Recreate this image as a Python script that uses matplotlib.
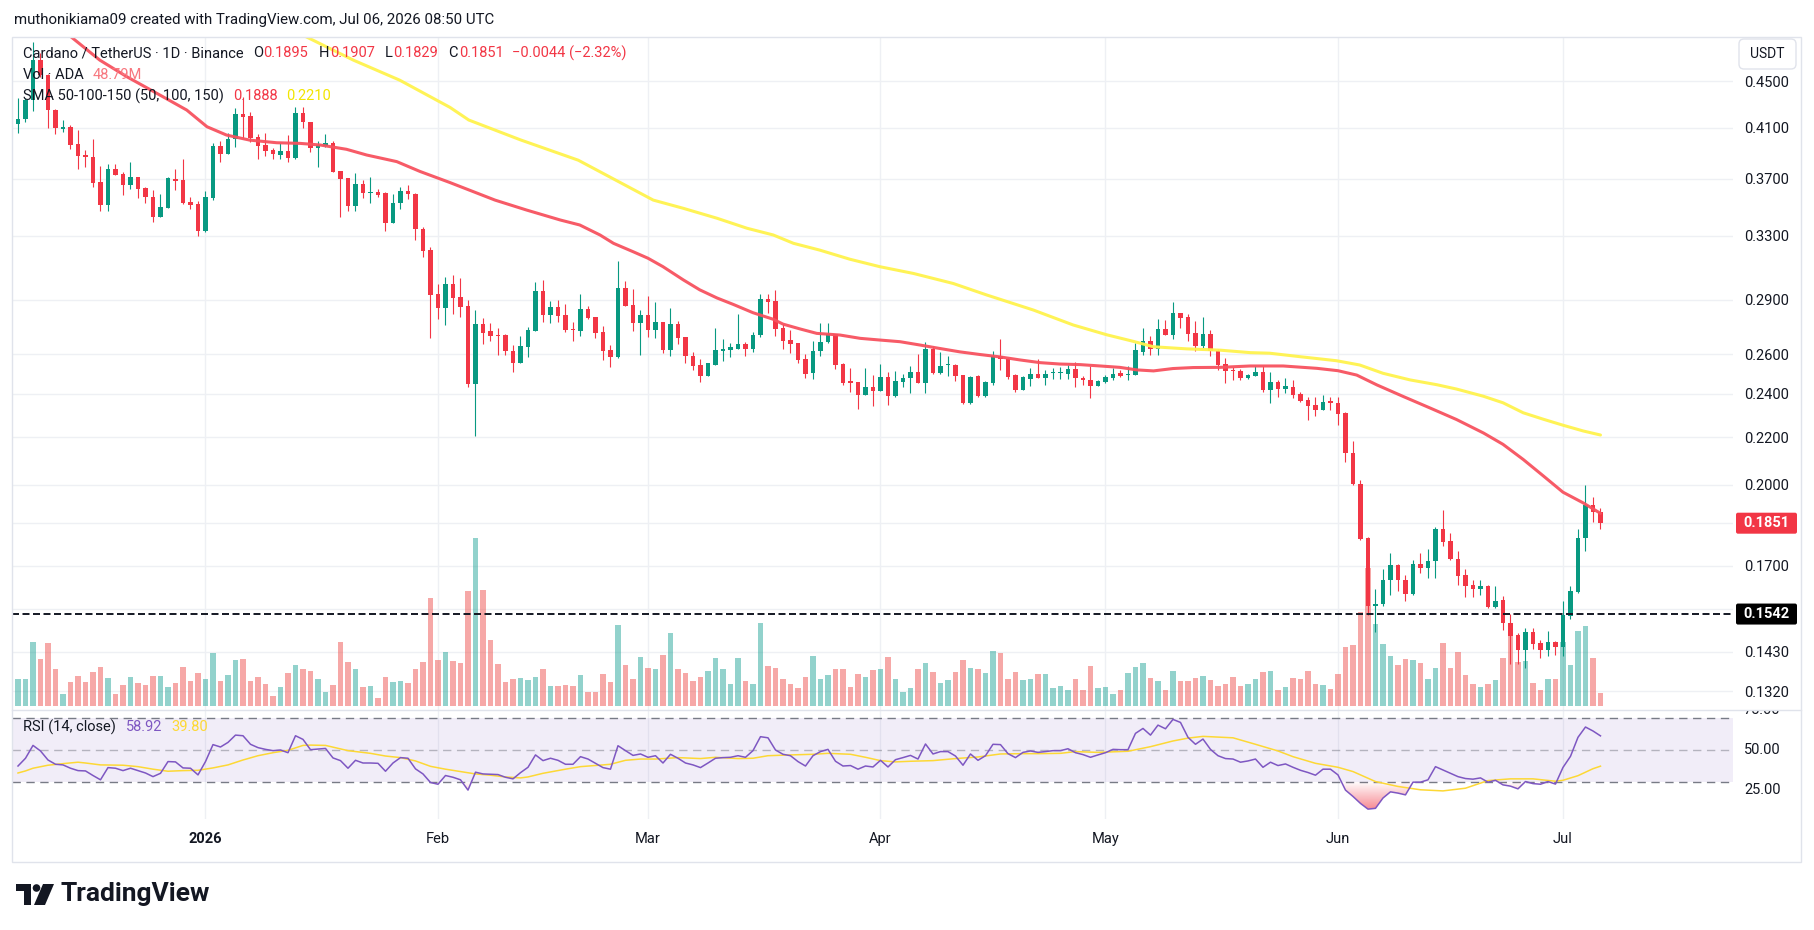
import datetime as dt
import numpy as np
import matplotlib
matplotlib.use("Agg")
import matplotlib.pyplot as plt
from matplotlib.patches import Rectangle, FancyBboxPatch, Circle, Polygon
from matplotlib.lines import Line2D
from matplotlib.path import Path
from matplotlib.transforms import IdentityTransform, blended_transform_factory
from matplotlib.ticker import FixedLocator, NullLocator, FixedFormatter, NullFormatter

plt.rcParams['font.family'] = ['Roboto', 'DejaVu Sans']

# ---------------- data ----------------
start_date = dt.date(2025, 12, 7)

opens = [
0.4132, 0.4171, 0.4334, 0.4696, 0.4560, 0.4247, 0.4085, 0.4104, 0.3967, 0.3880,
0.3864, 0.3676, 0.3512, 0.3772, 0.3732, 0.3655, 0.3713, 0.3633, 0.3566, 0.3428,
0.3490, 0.3698, 0.3690, 0.3531, 0.3516, 0.3333, 0.3561, 0.3951, 0.3890, 0.4004,
0.4212, 0.4195, 0.4021, 0.3959, 0.3919, 0.3882, 0.3911, 0.3859, 0.4221, 0.4146,
0.3933, 0.3954, 0.3972, 0.3757, 0.3705, 0.3505, 0.3660, 0.3592, 0.3602, 0.3592,
0.3387, 0.3521, 0.3609, 0.3590, 0.3344, 0.3204, 0.2932, 0.2855, 0.2994, 0.2917,
0.2864, 0.2449, 0.2762, 0.2724, 0.2702, 0.2702, 0.2617, 0.2555, 0.2636, 0.2725,
0.2952, 0.2812, 0.2858, 0.2812, 0.2736, 0.2726, 0.2846, 0.2801, 0.2718, 0.2622,
0.2583, 0.2970, 0.2870, 0.2770, 0.2812, 0.2731, 0.2774, 0.2624, 0.2762, 0.2691,
0.2591, 0.2543, 0.2490, 0.2545, 0.2619, 0.2622, 0.2627, 0.2654, 0.2627, 0.2700,
0.2905, 0.2893, 0.2742, 0.2676, 0.2659, 0.2576, 0.2505, 0.2614, 0.2662, 0.2707,
0.2548, 0.2458, 0.2458, 0.2397, 0.2434, 0.2416, 0.2484, 0.2392, 0.2461, 0.2476,
0.2509, 0.2456, 0.2627, 0.2503, 0.2542, 0.2545, 0.2493, 0.2355, 0.2488, 0.2390,
0.2456, 0.2590, 0.2575, 0.2493, 0.2419, 0.2474, 0.2499, 0.2480, 0.2501, 0.2501,
0.2499, 0.2524, 0.2480, 0.2469, 0.2439, 0.2461, 0.2480, 0.2504, 0.2494, 0.2494,
0.2613, 0.2670, 0.2625, 0.2735, 0.2702, 0.2824, 0.2802, 0.2711, 0.2643, 0.2706,
0.2616, 0.2550, 0.2516, 0.2516, 0.2479, 0.2488, 0.2509, 0.2420, 0.2459, 0.2423,
0.2434, 0.2400, 0.2371, 0.2346, 0.2324, 0.2362, 0.2357, 0.2310, 0.2132, 0.2003,
0.1797, 0.1566, 0.1573, 0.1650, 0.1702, 0.1652, 0.1604, 0.1705, 0.1691, 0.1714,
0.1830, 0.1786, 0.1723, 0.1668, 0.1636, 0.1621, 0.1633, 0.1564, 0.1587, 0.1516,
0.1477, 0.1435, 0.1486, 0.1454, 0.1435, 0.1459, 0.1442, 0.1537, 0.1613, 0.1797,
0.1921, 0.1895]

highs = [
0.4348, 0.4348, 0.4873, 0.4760, 0.4570, 0.4253, 0.4163, 0.4121, 0.4080, 0.3919,
0.4007, 0.3795, 0.3808, 0.3808, 0.3747, 0.3826, 0.3715, 0.3635, 0.3616, 0.3587,
0.3715, 0.3774, 0.3849, 0.3569, 0.3540, 0.3609, 0.3972, 0.3991, 0.4053, 0.4262,
0.4357, 0.4233, 0.4048, 0.4058, 0.3932, 0.3972, 0.4040, 0.4270, 0.4270, 0.4148,
0.3991, 0.4048, 0.3991, 0.3760, 0.3707, 0.3740, 0.3690, 0.3713, 0.3626, 0.3600,
0.3587, 0.3638, 0.3650, 0.3595, 0.3360, 0.3228, 0.2994, 0.3038, 0.3048, 0.3030,
0.2899, 0.2841, 0.2796, 0.2768, 0.2740, 0.2707, 0.2648, 0.2696, 0.2748, 0.3008,
0.3017, 0.2893, 0.2899, 0.2876, 0.2772, 0.2937, 0.2862, 0.2803, 0.2753, 0.2648,
0.3135, 0.3012, 0.2965, 0.2841, 0.2922, 0.2887, 0.2776, 0.2852, 0.2779, 0.2693,
0.2611, 0.2575, 0.2555, 0.2742, 0.2681, 0.2659, 0.2818, 0.2666, 0.2720, 0.2932,
0.2932, 0.2959, 0.2760, 0.2731, 0.2661, 0.2603, 0.2671, 0.2770, 0.2770, 0.2709,
0.2553, 0.2527, 0.2460, 0.2529, 0.2492, 0.2548, 0.2509, 0.2514, 0.2499, 0.2540,
0.2600, 0.2664, 0.2643, 0.2611, 0.2590, 0.2550, 0.2495, 0.2488, 0.2492, 0.2462,
0.2616, 0.2680, 0.2580, 0.2499, 0.2490, 0.2527, 0.2575, 0.2520, 0.2527, 0.2534,
0.2544, 0.2557, 0.2488, 0.2540, 0.2466, 0.2493, 0.2527, 0.2519, 0.2540, 0.2659,
0.2741, 0.2697, 0.2791, 0.2785, 0.2888, 0.2826, 0.2818, 0.2780, 0.2802, 0.2730,
0.2626, 0.2580, 0.2536, 0.2526, 0.2499, 0.2540, 0.2540, 0.2509, 0.2469, 0.2478,
0.2469, 0.2410, 0.2385, 0.2385, 0.2395, 0.2385, 0.2385, 0.2315, 0.2182, 0.2019,
0.1799, 0.1623, 0.1689, 0.1742, 0.1704, 0.1668, 0.1719, 0.1742, 0.1758, 0.1838,
0.1901, 0.1816, 0.1752, 0.1687, 0.1652, 0.1652, 0.1635, 0.1633, 0.1600, 0.1541,
0.1484, 0.1499, 0.1499, 0.1464, 0.1489, 0.1461, 0.1582, 0.1630, 0.1831, 0.1999,
0.1953, 0.1907]

lows = [
0.4058, 0.4149, 0.4241, 0.4540, 0.4093, 0.4048, 0.4066, 0.3925, 0.3772, 0.3785,
0.3641, 0.3469, 0.3469, 0.3725, 0.3582, 0.3626, 0.3557, 0.3526, 0.3394, 0.3424,
0.3488, 0.3616, 0.3514, 0.3483, 0.3300, 0.3327, 0.3545, 0.3829, 0.3888, 0.3946,
0.4013, 0.3980, 0.3849, 0.3875, 0.3849, 0.3846, 0.3823, 0.3849, 0.4099, 0.3900,
0.3790, 0.3940, 0.3748, 0.3428, 0.3469, 0.3469, 0.3561, 0.3526, 0.3569, 0.3333,
0.3385, 0.3481, 0.3550, 0.3272, 0.3163, 0.2688, 0.2793, 0.2757, 0.2818, 0.2803,
0.2436, 0.2207, 0.2654, 0.2671, 0.2596, 0.2596, 0.2506, 0.2553, 0.2583, 0.2723,
0.2775, 0.2770, 0.2775, 0.2720, 0.2671, 0.2698, 0.2791, 0.2688, 0.2571, 0.2535,
0.2581, 0.2862, 0.2725, 0.2598, 0.2693, 0.2688, 0.2608, 0.2588, 0.2654, 0.2555,
0.2520, 0.2460, 0.2488, 0.2543, 0.2565, 0.2583, 0.2625, 0.2588, 0.2611, 0.2690,
0.2822, 0.2698, 0.2627, 0.2608, 0.2555, 0.2480, 0.2475, 0.2590, 0.2660, 0.2525,
0.2445, 0.2411, 0.2330, 0.2395, 0.2344, 0.2414, 0.2349, 0.2387, 0.2436, 0.2403,
0.2454, 0.2403, 0.2498, 0.2498, 0.2488, 0.2464, 0.2352, 0.2353, 0.2387, 0.2387,
0.2444, 0.2519, 0.2474, 0.2411, 0.2417, 0.2439, 0.2478, 0.2444, 0.2475, 0.2475,
0.2475, 0.2435, 0.2444, 0.2383, 0.2437, 0.2456, 0.2470, 0.2485, 0.2470, 0.2492,
0.2598, 0.2595, 0.2598, 0.2700, 0.2680, 0.2741, 0.2672, 0.2616, 0.2630, 0.2590,
0.2519, 0.2456, 0.2466, 0.2470, 0.2474, 0.2486, 0.2410, 0.2359, 0.2387, 0.2405,
0.2379, 0.2362, 0.2278, 0.2296, 0.2322, 0.2324, 0.2255, 0.2095, 0.2000, 0.1788,
0.1540, 0.1487, 0.1568, 0.1601, 0.1614, 0.1582, 0.1602, 0.1676, 0.1657, 0.1657,
0.1768, 0.1719, 0.1636, 0.1597, 0.1597, 0.1601, 0.1562, 0.1562, 0.1494, 0.1396,
0.1396, 0.1384, 0.1438, 0.1413, 0.1416, 0.1419, 0.1416, 0.1526, 0.1609, 0.1752,
0.1854, 0.1829]

closes = [
0.4169, 0.4334, 0.4696, 0.4560, 0.4247, 0.4093, 0.4104, 0.3961, 0.3875, 0.3862,
0.3671, 0.3512, 0.3772, 0.3730, 0.3655, 0.3713, 0.3626, 0.3564, 0.3428, 0.3495,
0.3708, 0.3686, 0.3526, 0.3512, 0.3333, 0.3566, 0.3951, 0.3890, 0.4007, 0.4212,
0.4189, 0.4018, 0.3954, 0.3914, 0.3885, 0.3911, 0.3859, 0.4221, 0.4143, 0.3933,
0.3956, 0.3972, 0.3752, 0.3700, 0.3505, 0.3660, 0.3592, 0.3602, 0.3580, 0.3387,
0.3523, 0.3609, 0.3585, 0.3344, 0.3202, 0.2930, 0.2855, 0.2994, 0.2913, 0.2860,
0.2449, 0.2762, 0.2715, 0.2699, 0.2697, 0.2619, 0.2555, 0.2643, 0.2729, 0.2952,
0.2812, 0.2858, 0.2809, 0.2731, 0.2728, 0.2846, 0.2798, 0.2715, 0.2619, 0.2583,
0.2970, 0.2864, 0.2770, 0.2812, 0.2731, 0.2774, 0.2624, 0.2762, 0.2688, 0.2588,
0.2540, 0.2490, 0.2553, 0.2622, 0.2627, 0.2637, 0.2654, 0.2627, 0.2702, 0.2905,
0.2889, 0.2737, 0.2671, 0.2656, 0.2572, 0.2500, 0.2617, 0.2662, 0.2707, 0.2545,
0.2453, 0.2455, 0.2397, 0.2434, 0.2416, 0.2484, 0.2392, 0.2464, 0.2479, 0.2509,
0.2456, 0.2627, 0.2503, 0.2540, 0.2545, 0.2488, 0.2355, 0.2485, 0.2390, 0.2460,
0.2590, 0.2575, 0.2482, 0.2419, 0.2485, 0.2499, 0.2480, 0.2499, 0.2504, 0.2504,
0.2524, 0.2480, 0.2466, 0.2439, 0.2464, 0.2485, 0.2499, 0.2490, 0.2499, 0.2622,
0.2670, 0.2625, 0.2735, 0.2702, 0.2824, 0.2798, 0.2707, 0.2643, 0.2706, 0.2616,
0.2545, 0.2514, 0.2513, 0.2479, 0.2493, 0.2509, 0.2419, 0.2459, 0.2423, 0.2439,
0.2395, 0.2368, 0.2343, 0.2324, 0.2362, 0.2359, 0.2305, 0.2130, 0.2001, 0.1793,
0.1566, 0.1573, 0.1652, 0.1702, 0.1650, 0.1604, 0.1705, 0.1691, 0.1716, 0.1830,
0.1784, 0.1721, 0.1665, 0.1633, 0.1621, 0.1633, 0.1564, 0.1584, 0.1514, 0.1474,
0.1435, 0.1486, 0.1451, 0.1435, 0.1459, 0.1442, 0.1539, 0.1616, 0.1798, 0.1921,
0.1892, 0.1851]

volumes_m = [
100, 100, 239, 175, 235, 137.5, 44, 89, 111, 89,
126, 145, 104, 44, 77.5, 107.5, 85, 77.5, 111, 111,
70, 85, 145, 92.5, 122.5, 100, 197.5, 92.5, 115, 171,
175, 92.5, 107.5, 81, 36, 70, 122.5, 152.5, 137.5, 130,
100, 51, 77.5, 239, 164, 137.5, 70, 74, 29, 107.5,
89, 92.5, 85, 137.5, 164, 404, 171, 201, 167.5, 160,
430, 630, 434, 246, 156, 89, 100, 104, 96, 107.5,
137.5, 74, 74, 77.5, 74, 115, 51, 51, 119, 89,
302.5, 152.5, 100, 182.5, 141, 137.5, 190, 272.5, 137.5, 122.5,
92.5, 107.5, 130, 179, 137.5, 81, 179, 92.5, 81, 310,
149, 141, 100, 81, 66, 107.5, 186, 100, 115, 137.5,
137.5, 70, 119, 107.5, 134, 137.5, 182.5, 100, 51, 66,
137.5, 160, 126, 85, 96, 126, 171, 141, 137.5, 122.5,
205, 197.5, 100, 126, 96, 100, 119, 119, 66, 74,
59, 100, 59, 149, 66, 70, 44, 59, 122.5, 145,
160, 104, 92.5, 59, 130, 92.5, 92.5, 104, 111, 96,
74, 81, 107.5, 74, 81, 100, 126, 130, 59, 70,
104, 100, 130, 81, 77.5, 62.5, 119, 220, 227.5, 351,
516, 306, 231, 186, 152.5, 175, 171, 160, 100, 141,
235, 141, 201, 115, 81, 70, 81, 96, 179, 265,
164, 167.5, 85, 59, 100, 100, 239, 152.5, 280, 299,
179, 48.79]

rsi_values = [
39.9, 44.8, 52.9, 49.4, 43.7, 41.0, 40.6, 38.5, 37.0, 36.8,
33.9, 31.2, 38.9, 38.5, 37.0, 38.5, 37.0, 35.5, 33.2, 35.3,
42.7, 42.5, 38.7, 38.5, 34.3, 42.7, 53.4, 51.9, 54.8, 59.4,
59.0, 53.6, 51.5, 50.4, 49.6, 50.0, 48.3, 59.0, 56.7, 50.2,
50.6, 51.0, 45.0, 43.3, 38.5, 43.5, 41.8, 41.8, 41.6, 36.6,
41.8, 45.2, 44.8, 38.1, 34.9, 29.5, 28.4, 33.9, 32.8, 31.2,
24.7, 36.0, 34.9, 34.7, 34.5, 32.8, 31.8, 35.7, 39.1, 46.9,
43.3, 44.8, 43.5, 41.0, 41.0, 45.8, 44.3, 41.6, 38.9, 37.9,
52.7, 49.6, 46.6, 47.5, 45.4, 46.4, 41.8, 47.3, 44.8, 41.8,
40.6, 38.9, 41.8, 44.8, 45.2, 45.4, 46.4, 45.4, 49.6, 58.4,
57.7, 50.0, 47.3, 46.4, 42.7, 39.9, 46.4, 49.0, 50.4, 42.9,
39.9, 40.2, 37.9, 39.9, 39.3, 43.5, 39.3, 43.9, 45.2, 46.6,
44.3, 53.8, 47.5, 49.0, 49.0, 46.2, 40.4, 47.5, 43.5, 46.4,
53.6, 53.4, 47.7, 45.2, 48.5, 49.4, 48.5, 49.0, 49.6, 49.6,
50.8, 48.3, 47.1, 45.4, 46.9, 48.3, 50.4, 50.2, 50.2, 60.5,
63.6, 59.4, 65.7, 63.4, 69.3, 67.4, 58.0, 53.6, 56.9, 50.4,
46.4, 44.6, 44.3, 42.3, 43.1, 44.3, 39.1, 42.3, 40.2, 41.2,
39.1, 37.2, 35.8, 34.1, 37.9, 37.9, 34.3, 24.7, 20.7, 16.3,
12.7, 13.2, 19.7, 23.6, 22.8, 21.7, 29.7, 29.7, 31.2, 39.5,
37.4, 35.3, 33.2, 32.0, 31.6, 32.4, 29.7, 30.9, 28.0, 27.2,
25.5, 30.1, 28.8, 28.4, 30.1, 28.5, 39.0, 46.0, 58.0, 64.5,
62.0, 58.92]

rsi_ma_idx = [0, 1, 2, 4, 6, 8, 9, 11, 14, 16, 18, 20, 22, 24, 26, 28, 30, 32, 34, 36,
              38, 39, 41, 44, 47, 49, 51, 53, 55, 57, 59, 61, 63, 65, 67, 68, 70, 73, 75, 78,
              79, 81, 83, 85, 88, 91, 93, 96, 98, 100, 103, 106, 108, 111, 113, 115, 117, 119, 122, 125,
              128, 131, 134, 136, 139, 141, 144, 148, 151, 154, 156, 158, 162, 165, 168, 170, 173, 176, 178, 181,
              184, 187, 190, 193, 196, 199, 202, 205, 206, 208, 210, 211]
rsi_ma_val = [35.5, 36.8, 38.5, 40.4, 41.4, 42.3, 41.8, 40.6, 40.4, 39.5, 37.9, 36.6, 37.0, 37.2, 38.7, 40.6, 43.7, 46.4, 48.3, 49.8,
              52.9, 53.1, 52.9, 49.6, 47.9, 46.2, 45.2, 43.1, 39.7, 37.9, 36.4, 34.9, 34.1, 33.0, 32.4, 33.0, 35.3, 37.9, 39.5, 40.6,
              41.0, 43.5, 44.3, 44.3, 45.2, 44.6, 45.4, 44.6, 44.8, 46.4, 46.9, 47.3, 47.9, 47.3, 45.4, 43.3, 42.5, 42.9, 43.3, 44.6,
              45.6, 47.5, 47.7, 47.7, 47.9, 49.0, 48.5, 49.2, 52.1, 55.7, 57.5, 58.6, 57.7, 53.6, 49.4, 45.8, 41.6, 39.1, 36.4, 30.1,
              27.0, 24.9, 24.2, 25.9, 30.7, 31.8, 31.8, 30.3, 30.9, 33.8, 38.2, 39.8]

sma50_idx = [5, 6.5, 10.9, 14.5, 18.9, 22.5, 25.2, 27.8, 30.9, 34.5, 37.6, 40.3, 43.8, 46.5, 50.5, 53.6, 57.6,
             63.6, 67.8, 72.3, 74.9, 77.6, 79.4, 82.0, 84.0, 86.0, 88.7, 90.9, 93.2, 95.4, 98.0, 100.7, 102.0,
             104.3, 106.5, 109.6, 112.3, 114.9, 117.6, 120.3, 122.9, 125.6, 128.3, 130.9, 133.6, 136.3, 138.9,
             141.6, 144.3, 146.9, 149.2, 151.4, 154.0, 156.7, 160.3, 164.3, 168.7, 173.2, 176.0, 178.5, 181.2,
             184.7, 188.3, 191.8, 195.4, 198.0, 200.7, 203.4, 206.0, 208.7, 211]
sma50_val = [0.504, 0.4955, 0.4696, 0.4542, 0.4378, 0.4247, 0.4107, 0.4039, 0.3998, 0.3977, 0.3972, 0.3959, 0.3925, 0.3880, 0.3829, 0.3754, 0.3671,
             0.3544, 0.3474, 0.3405, 0.3371, 0.3304, 0.3249, 0.3195, 0.3153, 0.3100, 0.3019, 0.2959, 0.2911, 0.2873, 0.2826, 0.2789, 0.2762,
             0.2735, 0.2711, 0.2702, 0.2684, 0.2675, 0.2666, 0.2648, 0.2630, 0.2612, 0.2598, 0.2586, 0.2570, 0.2556, 0.2549,
             0.2546, 0.2539, 0.2532, 0.2519, 0.2514, 0.2526, 0.2531, 0.2532, 0.2539, 0.2539, 0.2527, 0.2515, 0.2493, 0.2444,
             0.2388, 0.2333, 0.2280, 0.2219, 0.2169, 0.2104, 0.2035, 0.1970, 0.1928, 0.1888]

sma100_idx = [35, 37.5, 44.7, 50.9, 57.6, 60.1, 67, 74.7, 84.7, 88.7, 93.2, 97.2, 100.7, 103.4, 106.9, 110.9,
              114.9, 119.4, 124.7, 129.2, 135.4, 140.7, 145.2, 148.7, 151.4, 155.8, 160.3, 164.3, 166.9, 170.9,
              175.8, 178.9, 182.0, 185.6, 189.2, 191.8, 195.4, 198.0, 200.7, 203.4, 206.0, 208.7, 211]
sma100_val = [0.505, 0.4955, 0.4696, 0.4510, 0.4270, 0.4163, 0.4000, 0.3840, 0.3544, 0.3486, 0.3417, 0.3349, 0.3304, 0.3249, 0.3205, 0.3147,
              0.3100, 0.3058, 0.2997, 0.2928, 0.2841, 0.2757, 0.2703, 0.2668, 0.2639, 0.2628, 0.2621, 0.2608, 0.2605, 0.2587,
              0.2566, 0.2544, 0.2502, 0.2469, 0.2445, 0.2424, 0.2389, 0.2358, 0.2311, 0.2281, 0.2254, 0.2228, 0.2210]

month_dates = [dt.date(2026, 1, 1), dt.date(2026, 2, 1), dt.date(2026, 3, 1), dt.date(2026, 4, 1),
               dt.date(2026, 5, 1), dt.date(2026, 6, 1), dt.date(2026, 7, 1)]
month_labels = ["2026", "Feb", "Mar", "Apr", "May", "Jun", "Jul"]
price_ticks = [0.132, 0.143, 0.17, 0.20, 0.22, 0.24, 0.26, 0.29, 0.33, 0.37, 0.41, 0.45]
hidden_grid = [0.1558, 0.185]
rsi_ticks = [75, 50, 25]
last_close = 0.1851
hline_level = 0.1542

title = "muthonikiama09 created with TradingView.com, Jul 06, 2026 08:50 UTC"

# ---------------- styling ----------------
DARK = '#131722'
GREEN = '#089981'
RED = '#F23645'
VGREEN = '#26A69A'
VRED = '#EF5350'
SMA_RED = '#F7525F'
SMA_YEL = '#FFF34D'
PURPLE = '#7E57C2'
RSI_YEL = '#FDD835'
GRID = '#EEF0F4'
BORDER = '#E0E3EB'
FS = 10.5

W, H = 1814, 930
fig = plt.figure(figsize=(W / 100, H / 100), dpi=100)
fig.patch.set_facecolor('white')

PL, PR = 12, 1733
PT, PB = 37, 710
RT, RB = 710, 819
BOX_R, BOX_B = 1801, 862


def rect(l, t, r, b):
    return [l / W, 1 - b / H, (r - l) / W, (b - t) / H]


axv = fig.add_axes(rect(PL, PT, PR, PB), zorder=1)
ax = fig.add_axes(rect(PL, PT, PR, PB), zorder=2)
axr = fig.add_axes(rect(PL, RT, PR, RB), zorder=1)
axrs = fig.add_axes(rect(PR, RT, BOX_R, RB), zorder=1)

n = len(closes)
x = np.arange(n)
XL = (-0.8, 228.67)
month_idx = [(d - start_date).days for d in month_dates]

for a in (ax, axv, axr, axrs):
    for s in a.spines.values():
        s.set_visible(False)
ax.patch.set_visible(False)

ax.set_yscale('log')
ax.set_xlim(*XL)
ax.set_ylim(0.12715, 0.4919)
axv.set_xlim(*XL)
axv.set_ylim(-15, 2508.75)
axv.set_xticks([])
axv.set_yticks([])

# price axis ticks (right side)
ax.yaxis.set_major_locator(FixedLocator(price_ticks))
ax.yaxis.set_minor_locator(NullLocator())
ax.yaxis.set_major_formatter(FixedFormatter([f"{v:.4f}" for v in price_ticks]))
ax.yaxis.set_minor_formatter(NullFormatter())
ax.yaxis.tick_right()
ax.tick_params(axis='y', which='both', length=0, pad=8, labelsize=FS, labelcolor=DARK)
ax.set_xticks([])

# gridlines (drawn underneath volume)
gtr = blended_transform_factory(axv.transAxes, ax.transData)
for p in price_ticks + hidden_grid:
    axv.add_line(Line2D([0, 1], [p, p], transform=gtr, color=GRID, lw=1, zorder=0))
for m in month_idx:
    axv.axvline(m, color=GRID, lw=1, zorder=0)
    axr.axvline(m, color=GRID, lw=1, zorder=0)

# volume
o = np.array(opens); c = np.array(closes); hi = np.array(highs); lo = np.array(lows)
up = c >= o
vcols = [VGREEN if u else VRED for u in up]
axv.bar(x, volumes_m, width=0.78, color=vcols, alpha=0.5, linewidth=0, zorder=2)
axv.set_xlim(*XL)
axv.set_ylim(-15, 2508.75)

# candles
ccols = [GREEN if u else RED for u in up]
ax.vlines(x, lo, hi, colors=ccols, lw=0.8, zorder=3)
b_lo = np.minimum(o, c)
b_hi = np.maximum(np.maximum(o, c), b_lo * 1.0025)
ax.bar(x, b_hi - b_lo, bottom=b_lo, width=0.62, color=ccols, linewidth=0, zorder=4)

# moving averages
ax.plot(sma50_idx, sma50_val, color=SMA_RED, lw=2.2, alpha=0.95, zorder=5, solid_capstyle='round')
ax.plot(sma100_idx, sma100_val, color=SMA_YEL, lw=2.2, alpha=0.95, zorder=5, solid_capstyle='round')

# horizontal line
ax.axhline(hline_level, color=DARK, lw=1.4, ls=(0, (3.6, 1.8)), zorder=6)
ax.set_xlim(*XL)
ax.set_ylim(0.12715, 0.4919)

# ---------------- RSI pane ----------------
RY = (6.47, 75.24)
axr.set_xlim(*XL)
axr.set_ylim(*RY)
axr.axhspan(30, 70, facecolor=PURPLE, alpha=0.1, lw=0, zorder=0)
axr.axhline(70, color='#787B86', lw=1, ls=(0, (6, 4)), zorder=1)
axr.axhline(30, color='#787B86', lw=1, ls=(0, (6, 4)), zorder=1)
axr.axhline(50, color='#787B86', alpha=0.5, lw=1, ls=(0, (6, 4)), zorder=1)

r = np.asarray(rsi_values)
fb = axr.fill_between(x, r, 30, where=r < 30, interpolate=True, facecolor='none', edgecolor='none')
paths = fb.get_paths()
if len(paths):
    clip = Path.make_compound_path(*paths)
    ny = 120
    yy = np.linspace(RY[0], 30, ny)
    grad = np.zeros((ny, 1, 4))
    grad[:, 0, 0] = 242 / 255
    grad[:, 0, 1] = 54 / 255
    grad[:, 0, 2] = 69 / 255
    grad[:, 0, 3] = np.clip((30 - yy) / 18.0, 0, 1) * 0.6
    im = axr.imshow(grad, extent=(XL[0], XL[1], RY[0], 30), origin='lower', aspect='auto',
                    interpolation='bilinear', zorder=1)
    im.set_clip_path(clip, transform=axr.transData)

axr.plot(rsi_ma_idx, rsi_ma_val, color=RSI_YEL, lw=1.1, zorder=2)
axr.plot(x, r, color=PURPLE, lw=1.1, zorder=3)
axr.set_xlim(*XL)
axr.set_ylim(*RY)
axr.set_yticks([])
axr.set_xticks(month_idx)
axr.set_xticklabels(month_labels)
axr.tick_params(axis='x', length=0, pad=9, labelsize=FS, labelcolor=DARK)
axr.get_xticklabels()[0].set_fontweight('bold')

axrs.set_xlim(0, 1)
axrs.set_ylim(*RY)
axrs.set_xticks([]); axrs.set_yticks([])
axrs.patch.set_visible(False)
for v in rsi_ticks:
    axrs.text(0.16, v, f"{v:.2f}", fontsize=FS, color=DARK, ha='left', va='center', clip_on=True)

# ---------------- frame / separators ----------------
I = IdentityTransform()
fig.add_artist(Rectangle((PL, H - BOX_B), BOX_R - PL, BOX_B - PT, transform=I, fill=False,
                         ec=BORDER, lw=1, zorder=5))
fig.add_artist(Line2D([PL, BOX_R], [H - PB, H - PB], transform=I, color=BORDER, lw=1, zorder=5))

# price tags
def tag(price, fc, label):
    yd = ax.transData.transform((0, price))[1]
    fig.add_artist(FancyBboxPatch((1736, yd - 10.5), 61, 21, boxstyle='round,pad=0,rounding_size=2',
                                  transform=I, fc=fc, ec='none', zorder=8))
    fig.text(1766.5 / W, yd / H, label, color='white', fontsize=FS, fontweight='bold',
             ha='center', va='center', zorder=11)

tag(last_close, RED, f"{last_close:.4f}")
tag(hline_level, '#000000', f"{hline_level:.4f}")

# USDT button
fig.add_artist(FancyBboxPatch((1739, H - 69), 57, 30, boxstyle='round,pad=0,rounding_size=5',
                              transform=I, fc='white', ec=BORDER, lw=1, zorder=8))
fig.text(1767.5 / W, 1 - 54 / H, "USDT", color=DARK, fontsize=10, ha='center', va='center', zorder=11)

# ---------------- texts ----------------
renderer = fig.canvas.get_renderer()


def text_row(x_px, y_px, pieces, size=FS):
    cur = x_px
    for s, col, gap in pieces:
        cur += gap
        t = fig.text(cur / W, 1 - y_px / H, s, color=col, fontsize=size, ha='left', va='center', zorder=12)
        cur = t.get_window_extent(renderer=renderer).x1


fig.text(14 / W, 1 - 20 / H, title, color=DARK, fontsize=10.85, ha='left', va='center')

text_row(23, 53, [("Cardano / TetherUS · 1D · Binance", DARK, 0),
                  ("O", DARK, 9), (f"{opens[-1]:.4f}", RED, 1),
                  ("H", DARK, 10), (f"{highs[-1]:.4f}", RED, 1),
                  ("L", DARK, 10), (f"{lows[-1]:.4f}", RED, 1),
                  ("C", DARK, 10), (f"{closes[-1]:.4f}", RED, 1),
                  ("\u22120.0044 (\u22122.32%)", RED, 9)])
text_row(23, 75, [("Vol · ADA", DARK, 0), (f"{volumes_m[-1]:.2f}M", '#F7777F', 9)])
text_row(23, 96, [("SMA 50-100-150 (50, 100, 150)", DARK, 0), (f"{sma50_val[-1]:.4f}", RED, 9),
                  (f"{sma100_val[-1]:.4f}", '#F2E500', 9)])
text_row(23, 727, [("RSI (14, close)", DARK, 0), (f"{rsi_values[-1]:.2f}", PURPLE, 10),
                   (f"{rsi_ma_val[-1]:.2f}", RSI_YEL, 9)])

# TradingView logo
def P(xp, yp):
    return (xp, H - yp)

fig.add_artist(Polygon([P(16, 884), P(31, 884), P(31, 905), P(24, 905), P(24, 891), P(16, 891)],
                       closed=True, transform=I, fc=DARK, ec='none'))
fig.add_artist(Circle(P(36.5, 888), 3.8, transform=I, fc=DARK, ec='none'))
fig.add_artist(Polygon([P(43, 884), P(54, 884), P(45, 905), P(34, 905)], closed=True,
                       transform=I, fc=DARK, ec='none'))
fig.text(60 / W, 1 - 894 / H, "TradingView", color=DARK, fontsize=19, fontweight='bold',
         ha='left', va='center')

fig.savefig('out.png', dpi=100, facecolor='white')
